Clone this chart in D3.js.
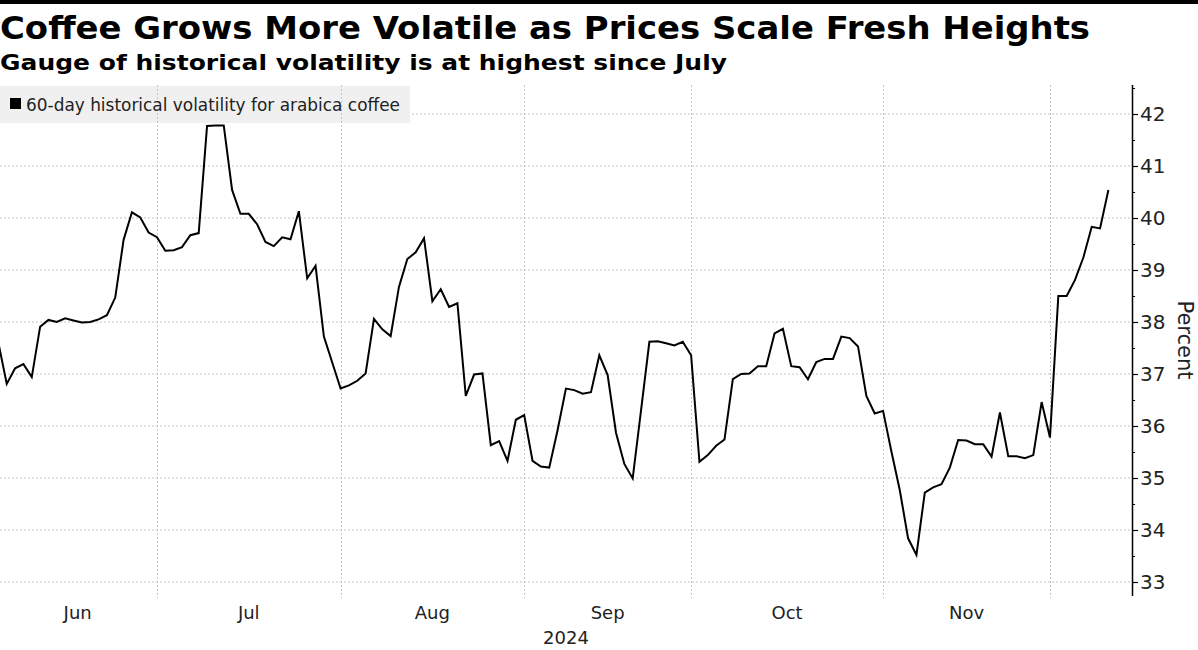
<!DOCTYPE html>
<html>
<head>
<meta charset="utf-8">
<script src="https://cdn.jsdelivr.net/npm/d3@7"></script>
<style>
  html, body { margin: 0; padding: 0; background: #fff; }
  svg { display: block; }
</style>
</head>
<body>
<svg id="chart" width="1198" height="650"></svg>
<script>
// ---------------- DATA ----------------
const title = "Coffee Grows More Volatile as Prices Scale Fresh Heights";
const subtitle = "Gauge of historical volatility is at highest since July";
const seriesName = "60-day historical volatility for arabica coffee";
const axisTitle = "Percent";
const yearLabel = "2024";

// trading-day range and exchange holidays
const startDate = "2024-06-03";
const endDate = "2024-12-11";
const holidays = ["2024-06-19", "2024-07-04", "2024-09-02", "2024-11-28"];

// 60-day historical volatility (%), one value per trading day
const values = [
  37.60, 36.81, 37.11, 37.19, 36.94, 37.91, 38.04, 38.00, 38.07, 38.03,
  37.99, 38.00, 38.05, 38.13, 38.47, 39.58, 40.11, 40.01, 39.72, 39.63,
  39.37, 39.38, 39.44, 39.67, 39.71, 41.77, 41.78, 41.78, 40.54, 40.08,
  40.08, 39.88, 39.54, 39.46, 39.63, 39.59, 40.13, 38.84, 39.08, 37.72,
  37.22, 36.72, 36.78, 36.87, 37.01, 38.06, 37.86, 37.73, 38.68, 39.21,
  39.34, 39.61, 38.40, 38.63, 38.29, 38.36, 36.58, 36.99, 37.01, 35.63,
  35.71, 35.33, 36.12, 36.21, 35.33, 35.22, 35.20, 35.92, 36.72, 36.69,
  36.62, 36.65, 37.36, 36.98, 35.87, 35.27, 34.99, 36.30, 37.62, 37.63,
  37.59, 37.55, 37.62, 37.36, 35.31, 35.44, 35.62, 35.74, 36.90, 37.00,
  37.01, 37.15, 37.15, 37.78, 37.87, 37.15, 37.13, 36.90, 37.23, 37.29,
  37.29, 37.72, 37.69, 37.53, 36.58, 36.24, 36.29, 35.51, 34.77, 33.84,
  33.52, 34.72, 34.82, 34.88, 35.20, 35.73, 35.72, 35.65, 35.65, 35.41,
  36.26, 35.42, 35.42, 35.38, 35.44, 36.46, 35.78, 38.50, 38.50, 38.81,
  39.24, 39.83, 39.80, 40.54
];

const yTicks = [33, 34, 35, 36, 37, 38, 39, 40, 41, 42];
const yMinorTicks = [33.5, 34.5, 35.5, 36.5, 37.5, 38.5, 39.5, 40.5, 41.5, 42.5];

// ---------------- BUILD ----------------
const parse = d3.utcParse("%Y-%m-%d");
const fmt = d3.utcFormat("%Y-%m-%d");
const holidaySet = new Set(holidays);
const dates = d3.utcDays(parse(startDate), d3.utcDay.offset(parse(endDate), 1))
  .filter(d => d.getUTCDay() !== 0 && d.getUTCDay() !== 6 && !holidaySet.has(fmt(d)));
const data = values.map((v, i) => ({ i, date: dates[i], v }));

// month starts (index of the first trading day of each month)
const monthStarts = [];
dates.forEach((d, i) => {
  if (i === 0 || d.getUTCMonth() !== dates[i - 1].getUTCMonth()) monthStarts.push({ i, date: d });
});

const svg = d3.select("#chart");
const W = 1198, H = 650;
const plot = { left: 0, right: 1132, top: 85, bottom: 596 };

const x = d3.scaleLinear().domain([0, values.length - 1]).range([-1.6, 1108.4]);
const y = d3.scaleLinear().domain([33, 42]).range([582, 114]);

// top black rule
svg.append("rect").attr("x", 0).attr("y", 0).attr("width", W).attr("height", 4).attr("fill", "#000");

// titles
svg.append("text").text(title)
  .attr("x", 0).attr("y", 39)
  .attr("font-family", "DejaVu Sans").attr("font-weight", "bold").attr("font-size", 32)
  .attr("textLength", 1090).attr("lengthAdjust", "spacingAndGlyphs")
  .attr("fill", "#000");
svg.append("text").text(subtitle)
  .attr("x", 0).attr("y", 70)
  .attr("font-family", "DejaVu Sans").attr("font-weight", "bold").attr("font-size", 22)
  .attr("textLength", 727).attr("lengthAdjust", "spacingAndGlyphs")
  .attr("fill", "#000");

// horizontal gridlines
svg.append("g").selectAll("line").data(yTicks).join("line")
  .attr("x1", plot.left).attr("x2", plot.right)
  .attr("y1", d => y(d)).attr("y2", d => y(d))
  .attr("stroke", "#c4c4c4").attr("stroke-width", 1).attr("stroke-dasharray", "2,2");

// legend box
svg.append("rect").attr("x", 0).attr("y", 86).attr("width", 410).attr("height", 37)
  .attr("fill", "#f0f0f0");

// vertical month gridlines
svg.append("g").selectAll("line").data(monthStarts.filter(m => m.i > 0)).join("line")
  .attr("x1", d => Math.round(x(d.i)) + 0.5).attr("x2", d => Math.round(x(d.i)) + 0.5)
  .attr("y1", plot.top).attr("y2", 598)
  .attr("stroke", "#c4c4c4").attr("stroke-width", 1).attr("stroke-dasharray", "2,2");

// legend content
svg.append("rect").attr("x", 10).attr("y", 98).attr("width", 11).attr("height", 11).attr("fill", "#000");
svg.append("text").text(seriesName)
  .attr("x", 26).attr("y", 111)
  .attr("font-family", "DejaVu Sans").attr("font-size", 17)
  .attr("textLength", 374).attr("lengthAdjust", "spacingAndGlyphs")
  .attr("fill", "#222");

// data line
const line = d3.line().x(d => x(d.i)).y(d => y(d.v));
svg.append("path").datum(data)
  .attr("d", line)
  .attr("fill", "none").attr("stroke", "#000").attr("stroke-width", 2)
  .attr("stroke-linejoin", "miter");

// right y axis
const yAxis = d3.axisRight(y).tickValues(yTicks).tickSize(6).tickPadding(3).tickFormat(d3.format("d"));
const gy = svg.append("g").attr("transform", `translate(${plot.right},0)`).call(yAxis);
gy.select(".domain").remove();
gy.append("line").attr("x1", 0.5).attr("x2", 0.5).attr("y1", plot.top).attr("y2", plot.bottom)
  .attr("stroke", "#000").attr("stroke-width", 1.5);
gy.selectAll(".tick line").attr("stroke", "#000").attr("stroke-width", 1.2);
gy.selectAll(".tick text")
  .attr("font-family", "DejaVu Sans").attr("font-size", 20).attr("fill", "#222")
  .attr("x", 8);
const yMinor = d3.axisRight(y).tickValues(yMinorTicks).tickSize(3).tickFormat("");
const gym = svg.append("g").attr("transform", `translate(${plot.right},0)`).call(yMinor);
gym.select(".domain").remove();
gym.selectAll(".tick line").attr("stroke", "#000").attr("stroke-width", 1);

// axis title
svg.append("text").text(axisTitle)
  .attr("transform", `translate(1178, 340) rotate(90)`)
  .attr("text-anchor", "middle")
  .attr("font-family", "DejaVu Sans").attr("font-size", 21).attr("fill", "#222");

// x month labels (centred in each complete month span)
const monthLabels = [];
for (let k = 0; k < monthStarts.length - 1; k++) {
  monthLabels.push({
    label: d3.utcFormat("%b")(monthStarts[k].date),
    cx: (x(monthStarts[k].i) + x(monthStarts[k + 1].i)) / 2
  });
}
svg.append("g").selectAll("text").data(monthLabels).join("text")
  .text(d => d.label)
  .attr("x", d => d.cx).attr("y", 619)
  .attr("text-anchor", "middle")
  .attr("font-family", "DejaVu Sans").attr("font-size", 18).attr("fill", "#222");
svg.append("text").text(yearLabel)
  .attr("x", (plot.left + plot.right) / 2).attr("y", 644)
  .attr("text-anchor", "middle")
  .attr("font-family", "DejaVu Sans").attr("font-size", 18).attr("fill", "#222");
</script>
</body>
</html>
